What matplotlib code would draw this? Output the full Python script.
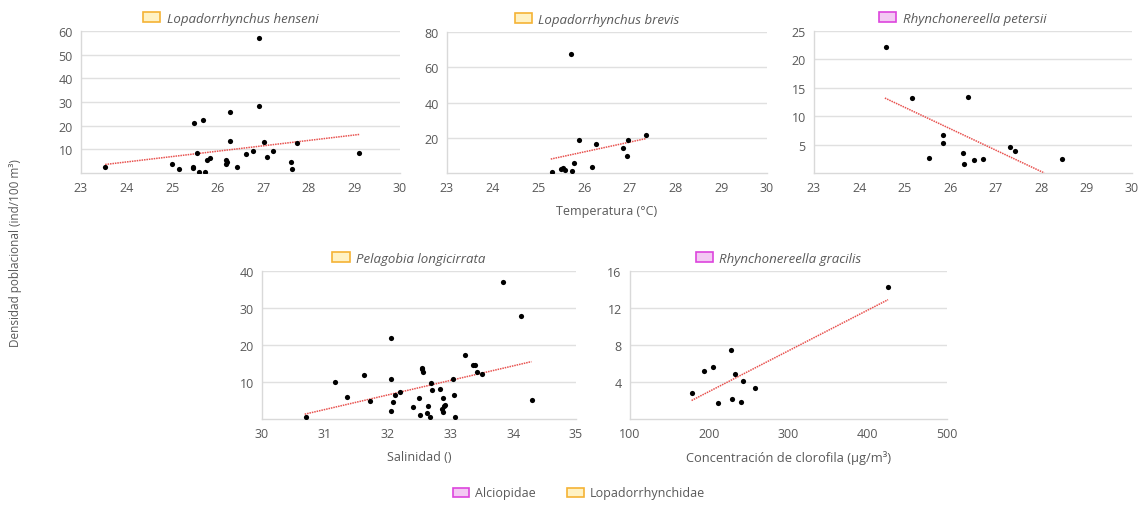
import matplotlib
matplotlib.use("Agg")
import matplotlib.pyplot as plt
from matplotlib.patches import Patch
import numpy as np

plt.rcParams['font.family'] = ['Open Sans', 'DejaVu Sans']

# ---------------- data ----------------
# Panel 1: Lopadorrhynchus henseni vs temperature
hens_x = [23.53, 25.0, 25.15, 25.45, 25.46, 25.49, 25.54, 25.6, 25.67, 25.72, 25.77, 25.84,
          26.18, 26.19, 26.2, 26.26, 26.28, 26.43, 26.62, 26.78, 26.9, 26.9, 27.01, 27.08,
          27.21, 27.61, 27.62, 27.73, 29.11]
hens_y = [2.5, 3.6, 1.7, 2.5, 2.1, 21.2, 8.4, 0.6, 22.6, 0.6, 5.3, 6.2,
          5.6, 3.6, 4.6, 25.7, 13.5, 2.4, 7.9, 9.5, 56.9, 28.5, 13.0, 6.7,
          9.1, 4.8, 1.5, 12.8, 8.6]
hens_trend_x = [23.53, 29.11]
hens_trend_y = [3.6, 16.3]

# Panel 2: Lopadorrhynchus brevis vs temperature
brev_x = [25.3, 25.5, 25.54, 25.59, 25.72, 25.74, 25.77, 25.88, 26.18, 26.26, 26.84, 26.93, 26.96, 27.35]
brev_y = [0.4, 2.5, 2.8, 1.7, 67.7, 0.9, 5.9, 18.7, 3.2, 16.6, 14.2, 9.8, 18.7, 21.7]
brev_trend_x = [25.27, 27.35]
brev_trend_y = [7.9, 19.5]

# Panel 3: Rhynchonereella petersii vs temperature
pete_x = [24.58, 25.15, 25.54, 25.84, 25.84, 26.27, 26.31, 26.38, 26.53, 26.71, 27.32, 27.42, 28.46]
pete_y = [22.2, 13.2, 2.6, 6.7, 5.2, 3.5, 1.6, 13.4, 2.3, 2.5, 4.5, 3.8, 2.5]
pete_trend_x = [24.56, 28.07]
pete_trend_y = [13.2, 0.0]

# Panel 4: Pelagobia longicirrata vs salinity
pela_x = [30.7, 31.17, 31.35, 31.62, 31.72, 32.05, 32.05, 32.05, 32.08, 32.12, 32.19, 32.41,
          32.5, 32.51, 32.54, 32.55, 32.57, 32.62, 32.65, 32.68, 32.69, 32.7, 32.83, 32.86,
          32.88, 32.89, 32.9, 32.91, 33.04, 33.05, 33.08, 33.23, 33.36, 33.39, 33.43, 33.51,
          33.83, 34.13, 34.3]
pela_y = [0.6, 10.0, 6.0, 12.0, 5.0, 21.9, 10.9, 2.2, 4.7, 6.4, 7.2, 3.3,
          5.6, 1.2, 13.5, 13.7, 12.7, 1.7, 3.6, 0.5, 9.7, 7.8, 8.2, 2.7,
          5.8, 1.9, 3.4, 3.8, 10.7, 6.6, 0.5, 17.3, 14.6, 14.7, 12.7, 12.1,
          37.1, 27.8, 5.2]
pela_trend_x = [30.68, 34.29]
pela_trend_y = [1.3, 15.5]

# Panel 5: Rhynchonereella gracilis vs chlorophyll
grac_x = [177.7, 193.7, 205.0, 210.5, 228.0, 229.0, 232.8, 240.0, 242.4, 258.0, 426.0]
grac_y = [2.8, 5.2, 5.6, 1.7, 7.5, 2.2, 4.9, 1.8, 4.1, 3.4, 14.3]
grac_trend_x = [177.7, 425.6]
grac_trend_y = [2.0, 12.9]

titles = ["Lopadorrhynchus henseni", "Lopadorrhynchus brevis", "Rhynchonereella petersii",
          "Pelagobia longicirrata", "Rhynchonereella gracilis"]
families = ["Lopadorrhynchidae", "Lopadorrhynchidae", "Alciopidae", "Lopadorrhynchidae", "Alciopidae"]

x_limits = [(23, 30), (23, 30), (23, 30), (30, 35), (100, 500)]
x_ticks = [list(range(23, 31)), list(range(23, 31)), list(range(23, 31)),
           list(range(30, 36)), [100, 200, 300, 400, 500]]
y_limits = [(0, 60), (0, 80), (0, 25), (0, 40), (0, 16)]
y_ticks = [[10, 20, 30, 40, 50, 60], [20, 40, 60, 80], [5, 10, 15, 20, 25],
           [10, 20, 30, 40], [4, 8, 12, 16]]

fam_colors = {"Alciopidae": ("#f3c9f3", "#dd44dd"),
              "Lopadorrhynchidae": ("#fff2c4", "#f5b335")}

# ---------------- figure ----------------
W, H = 1144, 506
fig = plt.figure(figsize=(W / 100, H / 100), dpi=100)

def rect(l, r, t, b):
    return [l / W, 1 - b / H, (r - l) / W, (b - t) / H]

boxes = [rect(81, 400, 32, 174), rect(447, 767, 33, 174), rect(814, 1132, 32, 174),
         rect(262, 576, 272, 420), rect(630, 947, 272, 420)]

xs = [hens_x, brev_x, pete_x, pela_x, grac_x]
ys = [hens_y, brev_y, pete_y, pela_y, grac_y]
txs = [hens_trend_x, brev_trend_x, pete_trend_x, pela_trend_x, grac_trend_x]
tys = [hens_trend_y, brev_trend_y, pete_trend_y, pela_trend_y, grac_trend_y]

grey = "#595959"
gridc = "#e0e0e0"
axes = []
for i in range(5):
    ax = fig.add_axes(boxes[i])
    axes.append(ax)
    ax.scatter(xs[i], ys[i], s=14, color="black", zorder=3, linewidths=0)
    ax.plot(txs[i], tys[i], color="#e8524f", lw=1.1, linestyle=(0, (1, 0.6)), zorder=2)
    ax.set_xlim(*x_limits[i])
    ax.set_ylim(*y_limits[i])
    ax.set_xticks(x_ticks[i])
    ax.set_yticks(y_ticks[i])
    ax.yaxis.grid(True, color=gridc, lw=1)
    ax.set_axisbelow(True)
    for s in ["top", "right"]:
        ax.spines[s].set_visible(False)
    for s in ["left", "bottom"]:
        ax.spines[s].set_color("#d9d9d9")
        ax.spines[s].set_linewidth(1)
    ax.tick_params(axis="both", length=0, labelsize=9, labelcolor=grey, pad=6)
    fc, ec = fam_colors[families[i]]
    h = Patch(facecolor=fc, edgecolor=ec, linewidth=1.2)
    bb = ax.get_position()
    wpx = bb.width * W
    hpx = bb.height * H
    leg = ax.legend([h], [titles[i]], loc="center",
                    bbox_to_anchor=(0.5 - 10 / wpx, 1 + 13 / hpx),
                    frameon=False, handlelength=1.3, handleheight=0.7, handletextpad=0.5,
                    prop={"style": "italic", "size": 9.5})
    for t in leg.get_texts():
        t.set_color(grey)

axes[1].set_xlabel("Temperatura (°C)", color=grey, fontsize=9, labelpad=7)
axes[3].set_xlabel("Salinidad ()", color=grey, fontsize=9, labelpad=7)
axes[4].set_xlabel("Concentración de clorofila (µg/m³)", color=grey, fontsize=9.3, labelpad=7)

fig.text(16 / W, 0.5, "Densidad poblacional (ind/100 m³)", rotation=90, color=grey,
         fontsize=8.5, ha="center", va="center")

fam_handles = [Patch(facecolor=fam_colors[f][0], edgecolor=fam_colors[f][1], linewidth=1.2)
               for f in ["Alciopidae", "Lopadorrhynchidae"]]
fl = fig.legend(fam_handles, ["Alciopidae", "Lopadorrhynchidae"], loc="center",
                bbox_to_anchor=(579 / W, 1 - 494 / H), ncol=2, frameon=False,
                handlelength=1.3, handleheight=0.7, handletextpad=0.5, columnspacing=2.5,
                prop={"size": 9})
for t in fl.get_texts():
    t.set_color(grey)

fig.savefig("out.png", dpi=100, facecolor="white")
